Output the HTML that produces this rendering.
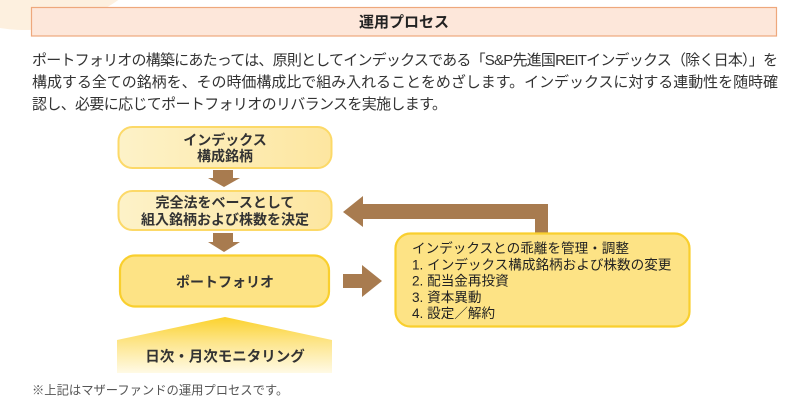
<!DOCTYPE html>
<html><head><meta charset="utf-8"><style>
html,body{margin:0;padding:0;background:#fff;}
body{width:800px;height:407px;overflow:hidden;position:relative;font-family:"Liberation Sans","Noto Sans CJK JP",sans-serif;}
svg{position:absolute;left:0;top:0;}
text{font-family:"Liberation Sans","Noto Sans CJK JP",sans-serif;}
</style></head><body>
<svg width="800" height="407" viewBox="0 0 800 407" xmlns="http://www.w3.org/2000/svg">
<defs>
<linearGradient id="lb" x1="0" y1="0" x2="1" y2="0">
<stop offset="0" stop-color="#fdf2c8"/><stop offset="1" stop-color="#fde6a0"/>
</linearGradient>
<linearGradient id="pg" x1="0" y1="0" x2="0" y2="1">
<stop offset="0" stop-color="#fcd22c"/><stop offset="0.45" stop-color="#fde58a"/><stop offset="1" stop-color="#fffae6"/>
</linearGradient>
</defs>
<circle cx="25" cy="-130" r="160" fill="#fdf0df"/>
<rect x="31.5" y="7.5" width="745" height="28.5" fill="#fde7da" stroke="#eea87c" stroke-width="1.2"/>
<text x="404" y="27" text-anchor="middle" font-size="15" font-weight="bold" fill="#222">運用プロセス</text>

<g font-size="15" fill="#333">
<text x="32" y="65" textLength="746" lengthAdjust="spacing">ポートフォリオの構築にあたっては、原則としてインデックスである「S&amp;P先進国REITインデックス（除く日本）」を</text>
<text x="32" y="87" textLength="746" lengthAdjust="spacing">構成する全ての銘柄を、その時価構成比で組み入れることをめざします。インデックスに対する連動性を随時確</text>
<text x="32" y="109" textLength="415" lengthAdjust="spacing">認し、必要に応じてポートフォリオのリバランスを実施します。</text>
</g>

<!-- box 1 -->
<rect x="118.5" y="127" width="213" height="41" rx="14" fill="url(#lb)" stroke="#fcd968" stroke-width="2"/>
<g font-size="14" font-weight="bold" fill="#333" text-anchor="middle">
<text x="225" y="145">インデックス</text>
<text x="225" y="161">構成銘柄</text>
</g>
<!-- arrow down 1 -->
<polygon points="213,170 233,170 233,178 240,178 224,187 208,178 213,178" fill="#a87b4f"/>

<!-- box 2 -->
<rect x="118.5" y="191" width="213" height="39" rx="14" fill="url(#lb)" stroke="#fcd968" stroke-width="2"/>
<g font-size="14" font-weight="bold" fill="#333" text-anchor="middle">
<text x="225" y="207.5">完全法をベースとして</text>
<text x="225" y="224.5">組入銘柄および株数を決定</text>
</g>
<!-- arrow down 2 -->
<polygon points="213,233 233,233 233,242 240,242 224,252 208,242 213,242" fill="#a87b4f"/>

<!-- box 3 -->
<rect x="120" y="255.5" width="209" height="51" rx="15" fill="#fde385" stroke="#f9cf2e" stroke-width="2.2"/>
<text x="225" y="287" text-anchor="middle" font-size="14" font-weight="bold" fill="#333">ポートフォリオ</text>

<!-- monitoring pentagon -->
<polygon points="225,317 332,340 332,373 117,373 117,340" fill="url(#pg)"/>
<text x="225" y="361.5" text-anchor="middle" font-size="14.5" font-weight="bold" fill="#333">日次・月次モニタリング</text>

<!-- footnote -->
<text x="32" y="394.5" font-size="12.3" fill="#555">※上記はマザーファンドの運用プロセスです。</text>

<!-- L arrow back -->
<polygon points="343,212 363,196 363,204 548,204 548,236 535,236 535,219 363,219 363,227" fill="#a87b4f"/>

<!-- right arrow -->
<polygon points="343,274 362,274 362,265 382,281 362,297 362,288 343,288" fill="#a87b4f"/>

<!-- right box -->
<rect x="395.5" y="233.5" width="294" height="93" rx="15" fill="#fde385" stroke="#f9cf2e" stroke-width="2.2"/>
<g font-size="13.6" fill="#222">
<text x="412" y="253">インデックスとの乖離を管理・調整</text>
<text x="412" y="269.3">1. インデックス構成銘柄および株数の変更</text>
<text x="412" y="285.6">2. 配当金再投資</text>
<text x="412" y="301.9">3. 資本異動</text>
<text x="412" y="318.2">4. 設定／解約</text>
</g>
</svg>
</body></html>
